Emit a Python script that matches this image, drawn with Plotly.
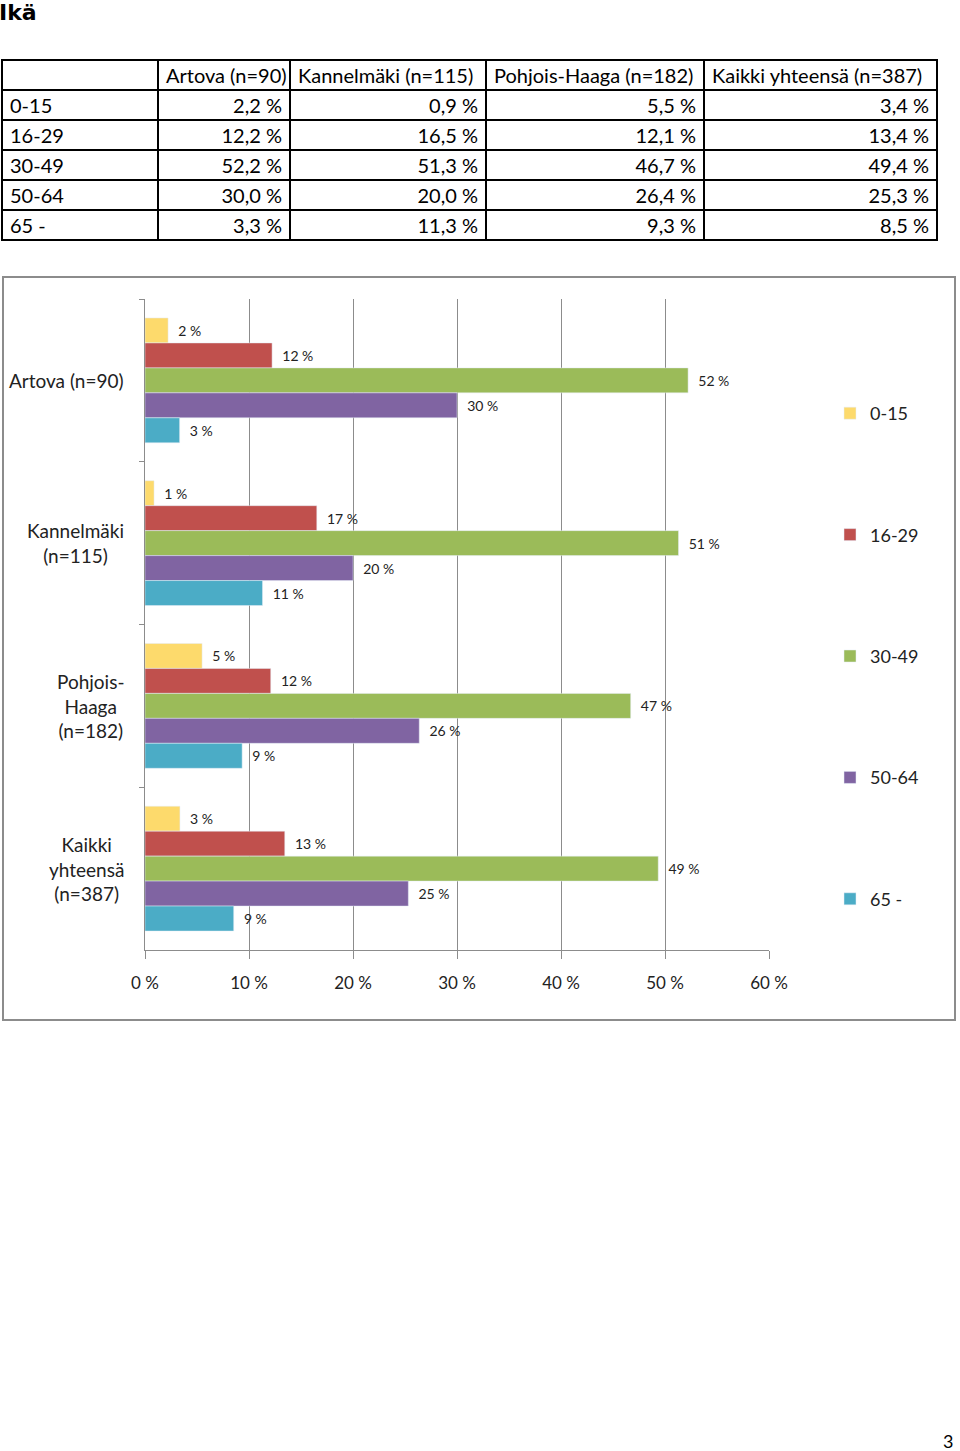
import plotly.graph_objects as go

# age groups (series) and areas (categories)
AGES = ["0-15", "16-29", "30-49", "50-64", "65 -"]
AREAS = ["Artova (n=90)", "Kannelmäki (n=115)", "Pohjois-Haaga (n=182)", "Kaikki yhteensä (n=387)"]
AREA_LABELS = ["Artova (n=90)", "Kannelmäki<br>(n=115)", "Pohjois-<br>Haaga<br>(n=182)",
               "Kaikki<br>yhteensä<br>(n=387)"]
COLORS = ["#FDDA6C", "#C0504D", "#9BBB59", "#8064A2", "#4BACC6"]

# percent per area, in AGES order
ARTOVA = [2.22, 12.22, 52.22, 30.00, 3.33]
KANNELMAKI = [0.87, 16.52, 51.30, 20.00, 11.30]
POHJOIS_HAAGA = [5.49, 12.09, 46.70, 26.37, 9.34]
KAIKKI = [3.36, 13.44, 49.35, 25.32, 8.53]
BY_AREA = [ARTOVA, KANNELMAKI, POHJOIS_HAAGA, KAIKKI]
X_TICKS = [0, 10, 20, 30, 40, 50, 60]

W, H = 960, 1451
FONT = "Lato"


def px(x):
    return x / W


def py(y):
    return 1 - y / H


def fmt(v):
    return f"{v:.1f}".replace(".", ",") + " %"


fig = go.Figure()

# table on top (nbsp keeps plotly from wrapping the headers)
table_cols = [AGES] + [[fmt(vals[i]) for i in range(len(AGES))] for vals in BY_AREA]
fig.add_trace(go.Table(
    domain=dict(x=[px(2), px(937)], y=[py(243), py(60)]),
    columnwidth=[156, 132, 196, 218, 233],
    header=dict(values=[""] + [a.replace(" ", "\u00a0") for a in AREAS], align="left", height=30,
                font=dict(family=FONT, size=20, color="black"),
                line=dict(color="black", width=2), fill_color="white"),
    cells=dict(values=table_cols, align=["left"] + ["right"] * 4, height=30,
               font=dict(family=FONT, size=20, color="black"),
               line=dict(color="black", width=2), fill_color="white"),
))

# bars
for i, (age, color) in enumerate(zip(AGES, COLORS)):
    vals = [area[i] for area in BY_AREA]
    fig.add_trace(go.Bar(
        y=AREAS, x=vals, orientation="h", name=age, marker_color=color,
        legendgroup=age, texttemplate="\u00a0\u00a0%{x:.0f} %", textposition="outside",
        textfont=dict(family=FONT, size=14, color="#222"), cliponaxis=False,
    ))

for area, label in zip(AREAS, AREA_LABELS):
    fig.add_annotation(x=px(126), xref="paper", xanchor="right", y=area, yref="y",
                       text=label, showarrow=False, align="center",
                       font=dict(family=FONT, size=19, color="#222"))

fig.add_annotation(x=px(-3), y=py(-2), xref="paper", yref="paper", xanchor="left",
                   yanchor="top", text="<b>Ikä</b>", showarrow=False,
                   font=dict(family="DejaVu Sans", size=22, color="black"))
fig.add_annotation(x=px(955), y=py(1441), xref="paper", yref="paper", xanchor="right",
                   yanchor="middle", text="3", showarrow=False,
                   font=dict(family=FONT, size=18, color="black"))

# chart frame
fig.add_shape(type="rect", xref="paper", yref="paper", x0=px(3), x1=px(955),
              y0=py(1020), y1=py(277), line=dict(color="#8c8c8c", width=2))

fig.update_layout(
    width=W, height=H, margin=dict(l=0, r=0, t=0, b=0, autoexpand=False),
    paper_bgcolor="white", plot_bgcolor="white",
    barmode="group", bargap=0.233, bargroupgap=0,
    font=dict(family=FONT, color="#222"),
    xaxis=dict(domain=[px(145), px(769)], range=[0, 60], tickvals=X_TICKS,
               ticktext=[f"{v} %" for v in X_TICKS],
               showgrid=True, gridcolor="#8c8c8c", gridwidth=1.3,
               showline=True, linecolor="#8c8c8c", linewidth=1.3, ticks="outside",
               ticklen=8, tickcolor="#8c8c8c", ticklabelstandoff=9,
               tickfont=dict(family=FONT, size=17, color="#222"),
               zeroline=False, fixedrange=True, automargin=False),
    yaxis=dict(domain=[py(950), py(299)], range=[3.5, -0.5], showticklabels=False,
               showline=True, linecolor="#8c8c8c", linewidth=1.3, ticks="outside",
               tickson="boundaries", ticklen=5, tickcolor="#8c8c8c", showgrid=False,
               fixedrange=True, automargin=False),
    legend=dict(x=px(830), xanchor="left", y=py(395), yanchor="top",
                tracegroupgap=95, font=dict(family=FONT, size=18, color="#222"),
                traceorder="grouped", bgcolor="rgba(0,0,0,0)"),
)

fig.write_html("out.html", config={"displayModeBar": False},
               post_script="document.body.style.margin = '0';")
